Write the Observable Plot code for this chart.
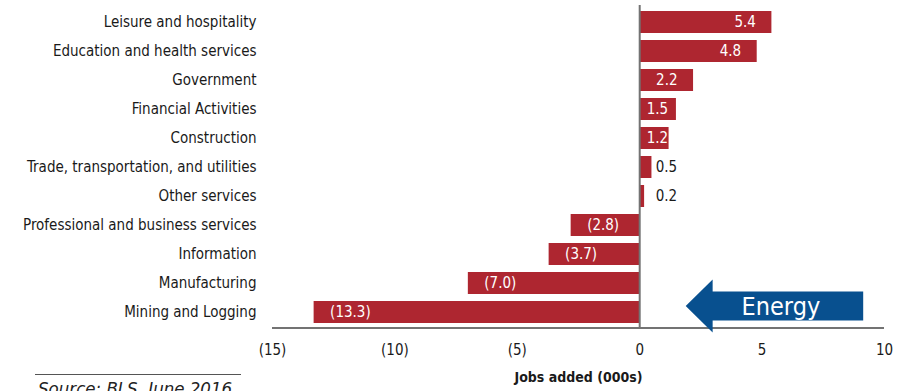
<!DOCTYPE html>
<html>
<head>
<meta charset="utf-8">
<script src="https://cdn.jsdelivr.net/npm/d3@7"></script>
<script src="https://cdn.jsdelivr.net/npm/@observablehq/plot@0.6"></script>
<style>
  html, body { margin: 0; padding: 0; background: #fff; overflow: hidden; }
  #wrap { position: relative; width: 907px; height: 391px; }
  #source { position: absolute; left: 35px; top: 374px; width: 203px; border-top: 1.5px solid #555;
    font-family: "Liberation Sans Narrow", "Arial Narrow", "DejaVu Sans Condensed", sans-serif;
    font-style: italic; font-size: 18.5px; line-height: 18px; color: #222; white-space: nowrap; padding-top: 5px; padding-left: 3px; }
</style>
</head>
<body>
<div id="wrap"><div id="chart"></div><div id="source">Source: BLS, June 2016</div></div>
<script>
const categories = ["Leisure and hospitality", "Education and health services", "Government", "Financial Activities", "Construction", "Trade, transportation, and utilities", "Other services", "Professional and business services", "Information", "Manufacturing", "Mining and Logging"];
const values = [5.4, 4.8, 2.2, 1.5, 1.2, 0.5, 0.2, -2.8, -3.7, -7.0, -13.3];
const xTicks = [-15, -10, -5, 0, 5, 10];
const xDomain = [-15, 10];
const axisTitle = "Jobs added (000s)";
const arrowLabel = "Energy";
const arrowRow = "Mining and Logging";
const arrowX = [1.9, 3.0, 9.15]; // tip, head base, tail (in jobs units)

const data = categories.map((c, i) => ({cat: c, value: values[i]}));
const fmtTick = d => d < 0 ? `(${-d})` : `${d}`;
const fmtVal = d => d < 0 ? `(${(-d).toFixed(1)})` : d.toFixed(1);
const FONT = `"Liberation Sans Narrow", "Arial Narrow", "DejaVu Sans Condensed", sans-serif`;
const RED = "#ae2630";
const BLUE = "#08508f";
const GRAY = "#737373";

const posLong = data.filter(d => d.value >= 2);
const posShort = data.filter(d => d.value >= 1 && d.value < 2);
const neg = data.filter(d => d.value <= -1);
const outside = data.filter(d => Math.abs(d.value) < 1);

function extras(index, scales, values, dimensions) {
  const ns = "http://www.w3.org/2000/svg";
  const g = document.createElementNS(ns, "g");
  const {x, y} = scales;
  const bw = y.bandwidth ? y.bandwidth() : 22;
  const bottom = dimensions.height - dimensions.marginBottom;
  const line = document.createElementNS(ns, "line");
  line.setAttribute("x1", x(xDomain[0]));
  line.setAttribute("x2", x(xDomain[1]));
  line.setAttribute("y1", bottom);
  line.setAttribute("y2", bottom);
  line.setAttribute("stroke", GRAY);
  line.setAttribute("stroke-width", 2);
  g.appendChild(line);
  const yc = y(arrowRow) + bw / 2 - 6;
  const xt = x(arrowX[0]), xb = x(arrowX[1]), xe = x(arrowX[2]);
  const hb = 14.5, hh = 26.5;
  const path = document.createElementNS(ns, "path");
  path.setAttribute("d", `M${xt},${yc} L${xb},${yc - hh} L${xb},${yc - hb} L${xe},${yc - hb} L${xe},${yc + hb} L${xb},${yc + hb} L${xb},${yc + hh} Z`);
  path.setAttribute("fill", BLUE);
  g.appendChild(path);
  const t = document.createElementNS(ns, "text");
  t.setAttribute("x", (xb + xe) / 2 - 7);
  t.setAttribute("y", yc + 9);
  t.setAttribute("text-anchor", "middle");
  t.setAttribute("fill", "white");
  t.setAttribute("font-size", 25);
  t.textContent = arrowLabel;
  g.appendChild(t);
  return g;
}

const chart = Plot.plot({
  width: 907,
  height: 391,
  marginTop: 5,
  marginBottom: 63,
  marginLeft: 272,
  marginRight: 23,
  style: {fontFamily: FONT, fontSize: "15px", color: "#1a1a1a", background: "white"},
  x: {domain: xDomain, ticks: xTicks, tickFormat: fmtTick, label: null},
  y: {domain: categories, paddingInner: 0.25, paddingOuter: 0.125, label: null},
  marks: [
    Plot.barX(data, {x: "value", y: "cat", fill: RED}),
    Plot.ruleX([0], {stroke: GRAY, strokeWidth: 2}),
    Plot.axisY({tickSize: 0, tickPadding: 16, label: null, fontSize: 15}),
    Plot.axisX({tickSize: 0, tickPadding: 16, ticks: xTicks, tickFormat: fmtTick, label: null, fontSize: 15}),
    Plot.text(posLong, {x: "value", y: "cat", text: d => fmtVal(d.value), textAnchor: "end", dx: -16, fill: "white", fontSize: 15}),
    Plot.text(posShort, {x: 0, y: "cat", text: d => fmtVal(d.value), textAnchor: "start", dx: 7, fill: "white", fontSize: 15}),
    Plot.text(neg, {x: "value", y: "cat", text: d => fmtVal(d.value), textAnchor: "start", dx: 16, fill: "white", fontSize: 15}),
    Plot.text(outside, {x: 0, y: "cat", text: d => fmtVal(d.value), textAnchor: "start", dx: 16, fill: "#1a1a1a", fontSize: 15}),
    extras,
    Plot.text([axisTitle], {frameAnchor: "bottom", dy: 53, text: d => d, fontWeight: "bold", fontSize: 14, fill: "#1a1a1a"})
  ]
});
document.getElementById("chart").appendChild(chart);
</script>
</body>
</html>
